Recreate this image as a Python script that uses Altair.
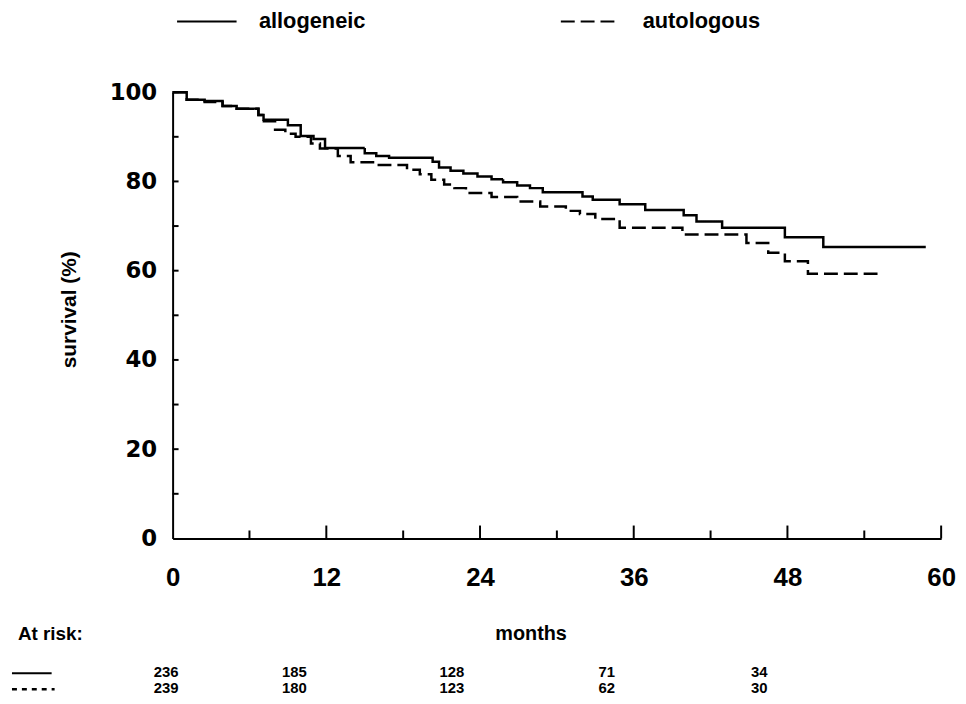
import altair as alt
import pandas as pd

series_names = ["allogeneic", "autologous"]

allo_t = [0, 1.1, 2.5, 3.9, 5.0, 6.7, 7.1, 9.0, 10.0, 11.0, 11.9, 15.0, 15.9, 16.9, 20.3, 20.8,
          21.7, 22.7, 23.8, 24.9, 25.8, 26.9, 27.9, 28.9, 32.0, 32.8, 34.9, 36.9, 39.9, 40.9,
          42.9, 47.8, 50.8, 58.8]
allo_s = [100, 98.3, 98.0, 96.9, 96.3, 94.9, 93.8, 92.6, 90.2, 89.5, 87.5, 86.3, 85.7, 85.3,
          84.4, 83.1, 82.4, 81.8, 81.1, 80.5, 79.8, 79.1, 78.5, 77.6, 76.6, 75.9, 74.9, 73.6,
          72.4, 71.0, 69.6, 67.5, 65.3, 65.3]

auto_t = [0, 1.1, 2.5, 3.9, 5.0, 6.7, 7.0, 8.0, 8.8, 9.6, 10.8, 11.5, 12.9, 13.9, 15.9, 18.3,
          19.3, 20.2, 21.2, 22.0, 22.9, 24.9, 26.9, 28.7, 30.7, 31.8, 33.0, 34.9, 39.8, 44.8,
          46.5, 47.8, 49.6, 55.4]
auto_s = [100, 98.3, 97.8, 96.9, 96.3, 94.9, 93.5, 91.6, 90.7, 90.0, 88.5, 87.4, 85.7, 84.3,
          83.7, 82.6, 81.6, 80.4, 79.3, 78.5, 77.4, 76.5, 75.5, 74.4, 73.4, 72.7, 71.6, 69.6,
          68.1, 66.2, 64.0, 62.1, 59.3, 59.3]

x_label_values = [0, 12, 24, 36, 48, 60]
y_label_values = [0, 20, 40, 60, 80, 100]
x_major_ticks = [12, 24, 36, 48, 60]
x_minor_ticks = [6, 18, 30, 42, 54]
y_ticks = [10, 20, 30, 40, 50, 60, 70, 80, 90, 100]

risk_allo = [236, 185, 128, 71, 34]
risk_auto = [239, 180, 123, 62, 30]
risk_label_month = [-0.5, 9.5, 21.8, 33.9, 45.8]

W, H = 775, 450
FONT = "Liberation Sans"

curves = pd.concat([
    pd.DataFrame({"month": allo_t, "survival": allo_s, "group": series_names[0]}),
    pd.DataFrame({"month": auto_t, "survival": auto_s, "group": series_names[1]}),
])

xs = alt.Scale(domain=[0, 60], nice=False, zero=False)
ys = alt.Scale(domain=[0, 100], nice=False, zero=False)

lines = alt.Chart(curves).mark_line(interpolate="step-after", color="black", strokeWidth=2.5).encode(
    x=alt.X("month:Q", scale=xs, axis=alt.Axis(
        values=x_label_values, ticks=False, grid=False, domainColor="black", domainWidth=2,
        labelFont=FONT, labelFontSize=26, labelFontWeight="bold", labelColor="black",
        labelPadding=26, labelFlush=False, title="months", titleFont=FONT, titleFontSize=20,
        titleFontWeight="bold", titleColor="black", titleX=361, titleY=96,
        titleBaseline="middle", titleAlign="center")),
    y=alt.Y("survival:Q", scale=ys, axis=alt.Axis(
        values=y_label_values, ticks=False, grid=False, domainColor="black", domainWidth=2,
        labelFont="DejaVu Sans", labelFontSize=23, labelFontWeight="bold", labelColor="black",
        labelPadding=16, labelFlush=False, title="survival  (%)", titleFont=FONT,
        titleFontSize=21, titleFontWeight="bold", titleColor="black", titleX=-104, titleY=219,
        titleBaseline="middle", titleAlign="center", titleAngle=-90)),
    strokeDash=alt.StrokeDash("group:N", scale=alt.Scale(domain=series_names, range=[[1, 0], [14, 6]]),
        legend=alt.Legend(title=None, orient="none", legendX=3, legendY=-103, direction="horizontal",
                          symbolType="stroke", symbolSize=3600, symbolStrokeWidth=2.2,
                          symbolStrokeColor="black", labelFont=FONT, labelFontSize=22,
                          labelFontWeight="bold", labelColor="black", labelOffset=21,
                          columnPadding=192, padding=0)),
    detail="group:N",
)

xmaj = alt.Chart(pd.DataFrame({"m": x_major_ticks})).mark_rule(color="black", strokeWidth=2).encode(
    x=alt.X("m:Q", scale=xs, axis=None), y=alt.value(H), y2=alt.value(H - 13))
xmin = alt.Chart(pd.DataFrame({"m": x_minor_ticks})).mark_rule(color="black", strokeWidth=2).encode(
    x=alt.X("m:Q", scale=xs, axis=None), y=alt.value(H), y2=alt.value(H - 8))
ytk = alt.Chart(pd.DataFrame({"v": y_ticks})).mark_rule(color="black", strokeWidth=2).encode(
    y=alt.Y("v:Q", scale=ys, axis=None), x=alt.value(0), x2=alt.value(6))

risk_df = pd.DataFrame({"pos": risk_label_month, "allo": risk_allo, "auto": risk_auto})
risk1 = alt.Chart(risk_df).mark_text(font=FONT, fontSize=15, fontWeight="bold", color="black").encode(
    x=alt.X("pos:Q", scale=xs, axis=None), y=alt.value(585), text="allo:Q")
risk2 = alt.Chart(risk_df).mark_text(font=FONT, fontSize=15, fontWeight="bold", color="black").encode(
    x=alt.X("pos:Q", scale=xs, axis=None), y=alt.value(601), text="auto:Q")

at_risk = alt.Chart(pd.DataFrame({"t": ["At risk:"]})).mark_text(
    font=FONT, fontSize=19, fontWeight="bold", color="black", align="left").encode(
    x=alt.value(-156), y=alt.value(546), text="t:N")

sym1 = alt.Chart(pd.DataFrame({"g": [series_names[0]]})).mark_rule(color="black", strokeWidth=2).encode(
    x=alt.value(-162), x2=alt.value(-122), y=alt.value(586))
sym2 = alt.Chart(pd.DataFrame({"g": [series_names[1]]})).mark_rule(
    color="black", strokeWidth=2.5, strokeDash=[5, 5]).encode(
    x=alt.value(-162), x2=alt.value(-119), y=alt.value(602))

chart = alt.layer(lines, xmaj, xmin, ytk, risk1, risk2, at_risk, sym1, sym2).resolve_axis(
    x="independent", y="independent"
).properties(
    width=W, height=H,
    autosize=alt.AutoSizeParams(type="none"),
    padding={"left": 166, "top": 82, "right": 17, "bottom": 155},
).configure_view(stroke=None)

chart.save("out.html", embed_options={"renderer": "svg", "actions": False})
